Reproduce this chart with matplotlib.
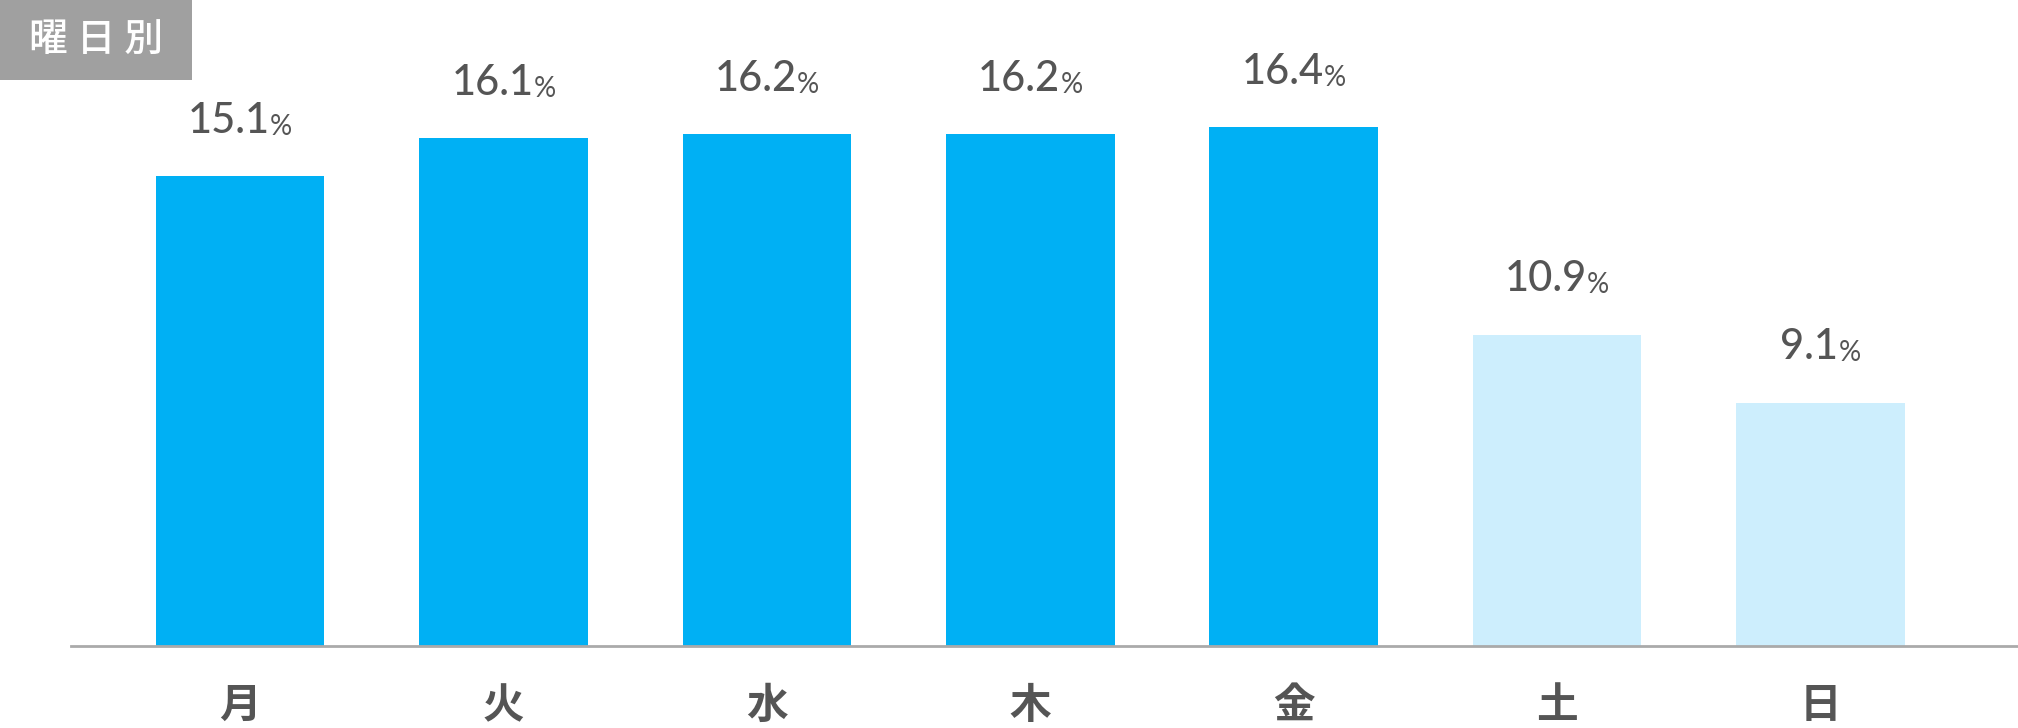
import matplotlib
matplotlib.use('Agg')
import matplotlib.pyplot as plt
from matplotlib.patches import Rectangle

days = ['月', '火', '水', '木', '金', '土', '日']
shares = [15.1, 16.1, 16.2, 16.2, 16.4, 10.9, 9.1]
weekend = [False, False, False, False, False, True, True]

plt.rcParams['font.family'] = ['Noto Sans CJK JP', 'DejaVu Sans']

fig = plt.figure(figsize=(20.18, 7.28), dpi=100)
W, H = 2018, 728
ax = fig.add_axes([71 / W, 82 / H, (W - 71) / W, (H - 82) / H])

colors = ['#cdeefd' if w else '#00b0f4' for w in weekend]
x = list(range(len(days)))
ax.bar(x, shares, width=0.64, color=colors, zorder=2)

ax.set_xlim(-0.642, 6.75)
ax.set_ylim(2.66, 19.75)
for s in ['top', 'right', 'left']:
    ax.spines[s].set_visible(False)
ax.spines['bottom'].set_color('#aaaaaa')
ax.spines['bottom'].set_linewidth(2)
ax.spines['bottom'].set_zorder(3)
ax.set_yticks([])
ax.set_xticks(x)
ax.set_xticklabels(days, fontsize=30, color='#555555', fontweight='bold')
ax.tick_params(axis='x', length=0, pad=28)

# value labels: number + smaller %
fig.canvas.draw()
r = fig.canvas.get_renderer()
for xi, v in zip(x, shares):
    num = ax.annotate(f'{v:.1f}', (xi, v), xytext=(0, 26), textcoords='offset points',
                      ha='center', va='bottom', fontsize=30, color='#555555',
                      family=['Lato', 'DejaVu Sans'], fontweight='medium')
    pct = ax.annotate('%', (xi, v), xytext=(0, 26), textcoords='offset points',
                      ha='left', va='bottom', fontsize=20, color='#555555',
                      family=['Lato', 'DejaVu Sans'])
    wn = num.get_window_extent(r).width
    wp = pct.get_window_extent(r).width
    tot = wn + wp
    shift = tot / 2 - wn / 2
    num.xyann = (-shift * 72 / 100, 26)
    pct.xyann = ((wn / 2 - shift) * 72 / 100, 26)

# title box
fig.patches.append(Rectangle((0, 1 - 80 / H), 192 / W, 80 / H, transform=fig.transFigure,
                             facecolor='#a0a0a0', edgecolor='none', zorder=5))
fig.text(96 / W, 1 - 41 / H, '曜 日 別', ha='center', va='center', fontsize=28,
         color='white', fontweight='medium', zorder=6)

fig.savefig('out.png', dpi=100)
